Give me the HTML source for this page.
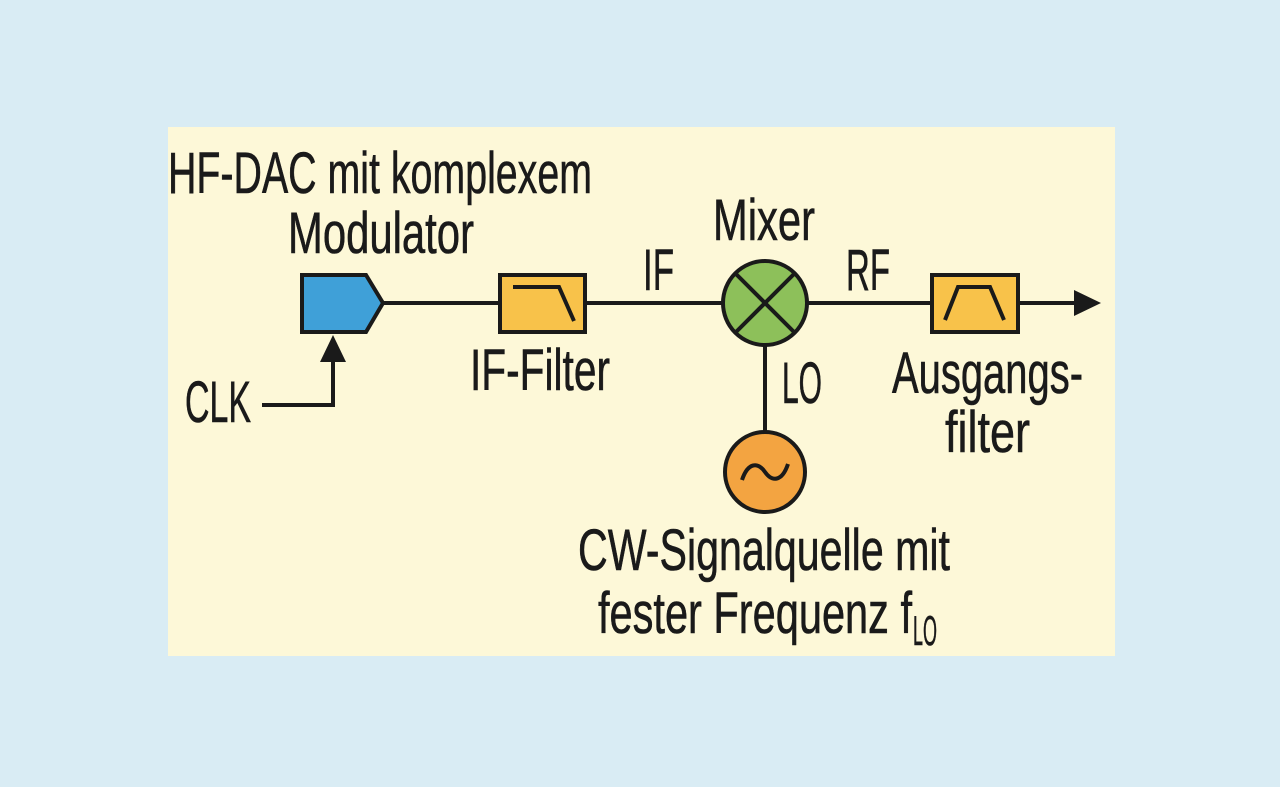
<!DOCTYPE html>
<html><head><meta charset="utf-8"><style>
html,body{margin:0;padding:0;background:#d9ecf4;}
svg{display:block}
text{font-family:"Liberation Sans",sans-serif;fill:#1a1a1a;stroke:#1a1a1a;stroke-width:0.6;}
</style></head><body>
<svg width="1280" height="787" viewBox="0 0 1280 787" xmlns="http://www.w3.org/2000/svg">
<rect x="0" y="0" width="1280" height="787" fill="#d9ecf4"/>
<rect x="168" y="127" width="947" height="529" fill="#fdf8d8"/>
<g stroke="#1a1a1a" stroke-width="4" fill="none">
<line x1="383" y1="303" x2="500" y2="303"/>
<line x1="585" y1="303" x2="722" y2="303"/>
<line x1="808" y1="303" x2="932" y2="303"/>
<line x1="1018" y1="303" x2="1078" y2="303"/>
<line x1="765" y1="345" x2="765" y2="432"/>
<polyline points="262,405 333,405 333,358"/>
</g>
<polygon points="1074,290 1101,303 1074,316" fill="#1a1a1a"/>
<polygon points="320,362 333,335 346,362" fill="#1a1a1a"/>
<polygon points="302,275 366,275 383,303 366,332 302,332" fill="#3fa0d8" stroke="#1a1a1a" stroke-width="4"/>
<rect x="500" y="275" width="85" height="57" fill="#f8c24a" stroke="#1a1a1a" stroke-width="4"/>
<polyline points="513,287 559,287 574,321" fill="none" stroke="#1a1a1a" stroke-width="4"/>
<rect x="932" y="275" width="86" height="57" fill="#f8c24a" stroke="#1a1a1a" stroke-width="4"/>
<polyline points="945,320 958,287 990,287 1004,320" fill="none" stroke="#1a1a1a" stroke-width="4"/>
<circle cx="765" cy="303" r="42" fill="#8dc05a" stroke="#1a1a1a" stroke-width="4"/>
<line x1="735" y1="273" x2="795" y2="333" stroke="#1a1a1a" stroke-width="4"/>
<line x1="795" y1="273" x2="735" y2="333" stroke="#1a1a1a" stroke-width="4"/>
<circle cx="765" cy="472" r="40" fill="#f3a441" stroke="#1a1a1a" stroke-width="4"/>
<path d="M742,480 C748,462 758,462 765,472 C772,482 782,482 788,464" fill="none" stroke="#1a1a1a" stroke-width="4"/>
<g font-size="58">
<text x="168" y="193" textLength="424" lengthAdjust="spacingAndGlyphs">HF-DAC mit komplexem</text>
<text x="288" y="253" textLength="186" lengthAdjust="spacingAndGlyphs">Modulator</text>
<text x="713" y="240" textLength="102" lengthAdjust="spacingAndGlyphs">Mixer</text>
<text x="643" y="290" textLength="31" lengthAdjust="spacingAndGlyphs">IF</text>
<text x="846" y="290" textLength="44" lengthAdjust="spacingAndGlyphs">RF</text>
<text x="470" y="390" textLength="140" lengthAdjust="spacingAndGlyphs">IF-Filter</text>
<text x="782" y="403" textLength="40" lengthAdjust="spacingAndGlyphs">LO</text>
<text x="892" y="393" textLength="191" lengthAdjust="spacingAndGlyphs">Ausgangs-</text>
<text x="945" y="452" textLength="85" lengthAdjust="spacingAndGlyphs">filter</text>
<text x="185" y="422" textLength="66" lengthAdjust="spacingAndGlyphs">CLK</text>
<text x="578" y="570" textLength="372" lengthAdjust="spacingAndGlyphs">CW-Signalquelle mit</text>
<text x="598" y="633" textLength="314" lengthAdjust="spacingAndGlyphs">fester Frequenz f</text>
<text x="913" y="645" font-size="42" textLength="24" lengthAdjust="spacingAndGlyphs">LO</text>
</g>
</svg>
</body></html>
